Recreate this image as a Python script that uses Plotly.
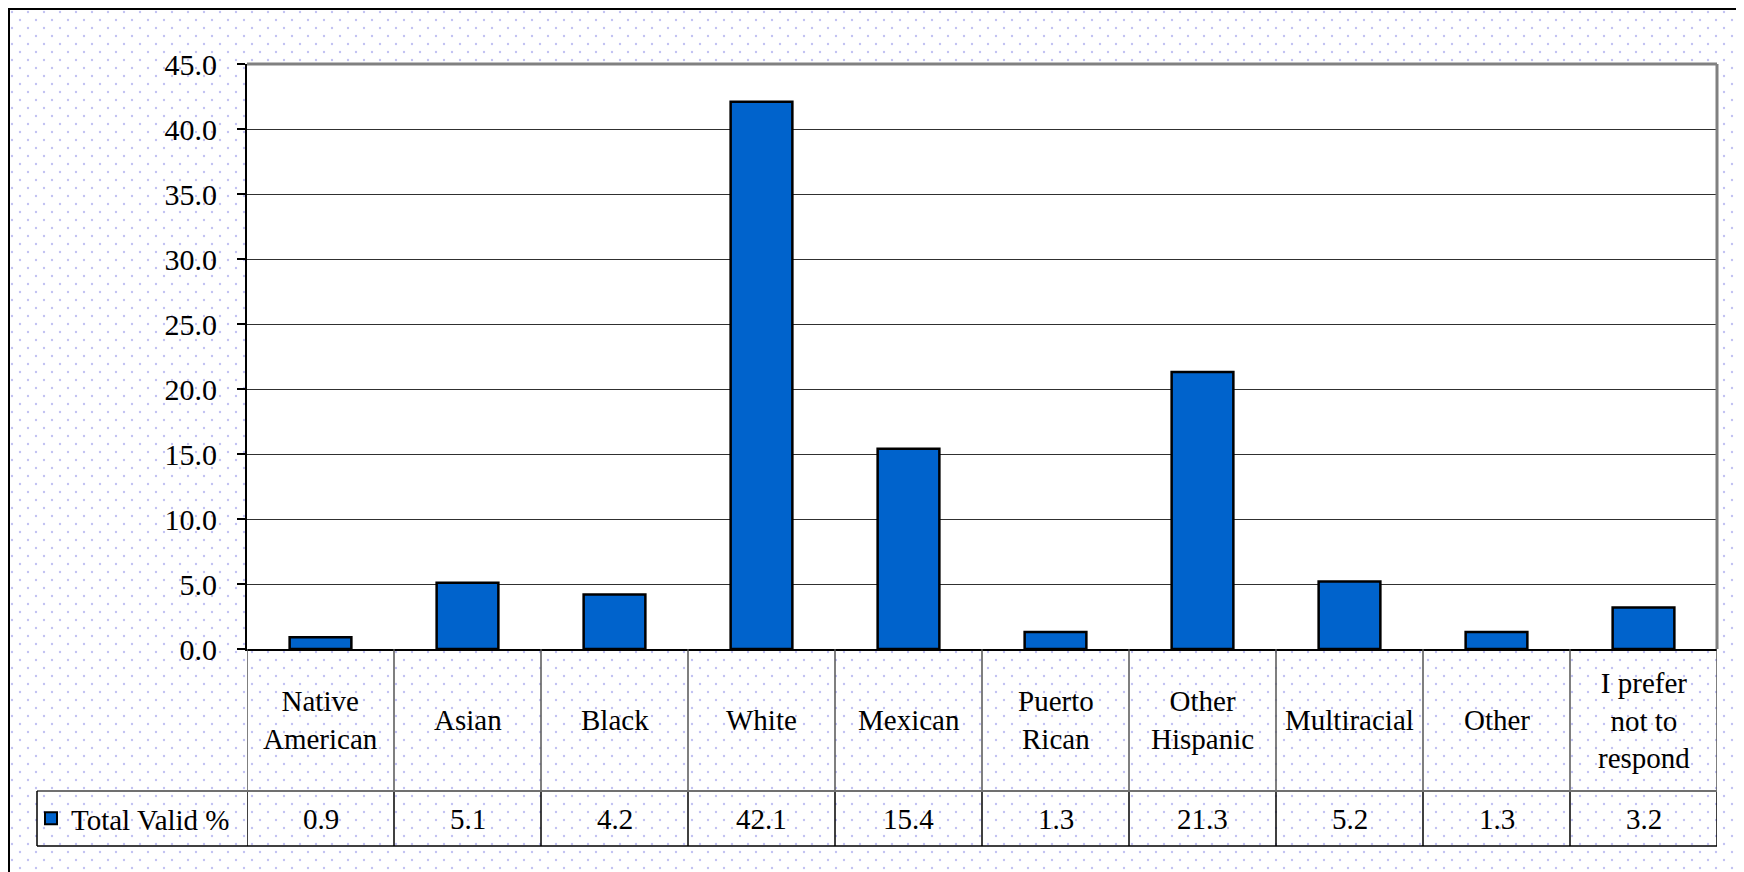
import base64
import plotly.graph_objects as go

categories = ["Native American", "Asian", "Black", "White", "Mexican",
              "Puerto Rican", "Other Hispanic", "Multiracial", "Other",
              "I prefer not to respond"]
tick_labels = ["Native<br>American", "Asian", "Black", "White", "Mexican",
               "Puerto<br>Rican", "Other<br>Hispanic", "Multiracial", "Other",
               "I prefer<br>not to<br>respond"]
values = [0.9, 5.1, 4.2, 42.1, 15.4, 1.3, 21.3, 5.2, 1.3, 3.2]
series_name = "Total Valid %"

W, H = 1744, 872
OFF = 8  # page body margin offset
L, R, T = 247 - OFF, 27 + OFF, 64 - OFF
B = H - (649 - OFF)
PW, PH = W - L - R, H - T - B


def px_x(px):
    return (px - OFF - L) / PW


def px_y(py):
    return (H - B - (py - OFF)) / PH


FONT = "Liberation Serif, Times New Roman, serif"
BLUE = "#0063CC"

svg = f'''<svg xmlns="http://www.w3.org/2000/svg" width="{W}" height="{H}" viewBox="0 0 {W} {H}">
<defs>
<pattern id="g" width="16" height="16" patternUnits="userSpaceOnUse">
<circle cx="4" cy="4" r="1" fill="#d2d2d2"/><circle cx="12" cy="12" r="1" fill="#d2d2d2"/></pattern>
<pattern id="b" width="16" height="16" patternUnits="userSpaceOnUse">
<circle cx="4" cy="4" r="1.2" fill="#c2c2f2"/><circle cx="12" cy="12" r="1.2" fill="#c2c2f2"/></pattern>
</defs>
<rect width="{W}" height="{H}" fill="#f2f2f2"/>
<rect width="{W}" height="{H}" fill="url(#g)"/>
<rect x="1" y="1" width="1731" height="900" fill="#ffffff"/>
<rect x="1" y="1" width="1731" height="900" fill="url(#b)"/>
<rect x="1" y="1" width="1731" height="900" fill="none" stroke="#000000" stroke-width="2"/>
</svg>'''
bg_src = "data:image/svg+xml;base64," + base64.b64encode(svg.encode()).decode()

fig = go.Figure()
fig.add_trace(go.Bar(
    x=categories, y=values, name=series_name,
    marker=dict(color=BLUE, line=dict(color="#000000", width=2.5)),
    showlegend=True,
))

fig.add_layout_image(dict(
    source=bg_src, xref="paper", yref="paper",
    x=-L / PW, y=(H - B) / PH, sizex=W / PW, sizey=H / PH,
    xanchor="left", yanchor="top", sizing="stretch", layer="below",
))

shapes = []
shapes.append(dict(type="rect", xref="paper", yref="paper", x0=0, x1=1, y0=0, y1=1,
                   fillcolor="#ffffff", line=dict(width=0), layer="below"))
shapes.append(dict(type="line", xref="paper", yref="paper", x0=0, x1=1, y0=1, y1=1,
                   line=dict(color="#808080", width=3)))
shapes.append(dict(type="line", xref="paper", yref="paper", x0=1, x1=1, y0=0, y1=1,
                   line=dict(color="#808080", width=3)))

row1_bottom = px_y(791)
row2_bottom = px_y(846)
n = len(categories)
for i in range(n + 1):
    xi = i - 0.5
    shapes.append(dict(type="line", xref="x", yref="paper", x0=xi, x1=xi,
                       y0=0, y1=row1_bottom, line=dict(color="#555555", width=1.5)))
    shapes.append(dict(type="line", xref="x", yref="paper", x0=xi, x1=xi,
                       y0=row1_bottom, y1=row2_bottom, line=dict(color="#000000", width=1.5)))
shapes.append(dict(type="line", xref="paper", yref="paper", x0=px_x(37), x1=1,
                   y0=row1_bottom, y1=row1_bottom, line=dict(color="#707070", width=2)))
shapes.append(dict(type="line", xref="paper", yref="paper", x0=px_x(37), x1=1,
                   y0=row2_bottom, y1=row2_bottom, line=dict(color="#000000", width=1.5)))
shapes.append(dict(type="line", xref="paper", yref="paper", x0=px_x(37), x1=px_x(37),
                   y0=row1_bottom, y1=row2_bottom, line=dict(color="#000000", width=1.5)))

annotations = []
row1_mid = px_y((649 + 791) / 2)
row2_mid = px_y((791 + 846) / 2)
for cat, lab, v in zip(categories, tick_labels, values):
    annotations.append(dict(x=cat, xref="x", y=row1_mid, yref="paper", text=lab,
                            showarrow=False, xanchor="center", yanchor="middle",
                            font=dict(family=FONT, size=29, color="#000000")))
    annotations.append(dict(x=cat, xref="x", y=row2_mid, yref="paper", text=f"{v:.1f}",
                            showarrow=False, xanchor="center", yanchor="middle",
                            font=dict(family=FONT, size=29, color="#000000")))

fig.update_layout(
    width=W, height=H,
    margin=dict(l=L, r=R, t=T, b=B),
    paper_bgcolor="#f2f2f2", plot_bgcolor="#ffffff",
    bargap=0.58,
    font=dict(family=FONT, size=29, color="#000000"),
    shapes=shapes, annotations=annotations,
    legend=dict(x=px_x(31), y=row2_mid, xanchor="left", yanchor="middle",
                bgcolor="rgba(0,0,0,0)", font=dict(family=FONT, size=29, color="#000000"),
                itemsizing="constant"),
    xaxis=dict(range=[-0.5, n - 0.5], showticklabels=False, ticks="",
               showline=True, linecolor="#000000", linewidth=1.5, showgrid=False,
               zeroline=False),
    yaxis=dict(range=[0, 45], dtick=5, tick0=0, tickformat=".1f",
               ticks="outside", ticklen=8, tickcolor="#000000", tickwidth=1.5,
               showline=True, linecolor="#000000", linewidth=2,
               showgrid=True, gridcolor="#303030", gridwidth=1, zeroline=False,
               ticklabelstandoff=14,
               tickfont=dict(family=FONT, size=30, color="#000000")),
)

fig.write_html("out.html")
